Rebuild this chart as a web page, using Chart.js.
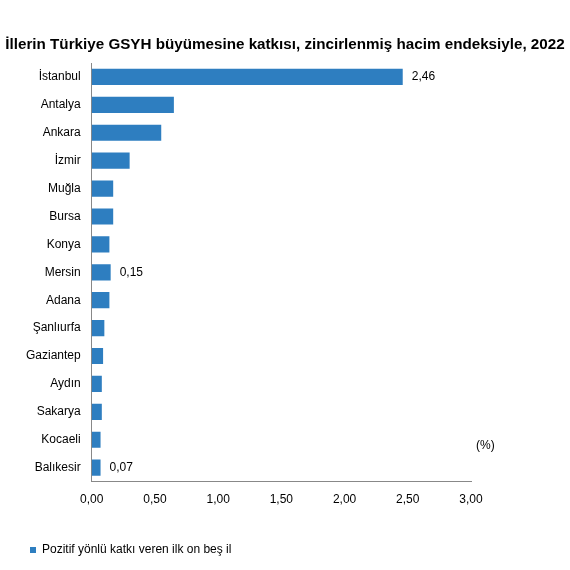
<!DOCTYPE html>
<html><head><meta charset="utf-8">
<script src="https://cdn.jsdelivr.net/npm/chart.js@4/dist/chart.umd.min.js"></script>
<style>body{margin:0;background:#fff}#w{width:570px;height:570px;position:relative}</style>
</head><body><div id="w"><canvas id="c"></canvas></div>
<script>
const categories=["İstanbul","Antalya","Ankara","İzmir","Muğla","Bursa","Konya","Mersin","Adana","Şanlıurfa","Gaziantep","Aydın","Sakarya","Kocaeli","Balıkesir"];
const values=[2.46,0.65,0.55,0.30,0.17,0.17,0.14,0.15,0.14,0.10,0.09,0.08,0.08,0.07,0.07];
const shownLabels=["2,46","","","","","","","0,15","","","","","","","0,07"];
const seriesName="Pozitif yönlü katkı veren ilk on beş il";
const title="İllerin Türkiye GSYH büyümesine katkısı, zincirlenmiş hacim endeksiyle, 2022";
const fmt=v=>v.toFixed(2).replace('.',',');
const F='Arial, "Liberation Sans"';
const labelPlugin={id:'lbl',afterDatasetsDraw(ch){const c=ch.ctx;const m=ch.getDatasetMeta(0);c.save();c.font='12px '+F;c.fillStyle='#000';c.textBaseline='middle';
m.data.forEach((b,i)=>{if(shownLabels[i])c.fillText(shownLabels[i],b.x+9,b.y);});
const xs=ch.scales.x;c.fillText('(%)',xs.right+5,ch.scales.y.getPixelForValue(14)-22);
let s=16;c.font='bold '+s+'px '+F;const w=c.measureText(title).width;s=s*560/w;c.font='bold '+s+'px '+F;
c.textAlign='center';c.fillText(title,285,45);c.restore();}};
new Chart(document.getElementById('c'),{type:'bar',
data:{labels:categories,datasets:[{label:seriesName,data:values,backgroundColor:'#2E7EC0',barPercentage:0.58,categoryPercentage:1}]},
options:{indexAxis:'y',responsive:true,maintainAspectRatio:false,animation:false,
layout:{padding:{left:20,right:99,top:63,bottom:4}},
plugins:{title:{display:false},
legend:{position:'bottom',align:'start',labels:{boxWidth:6,boxHeight:6,font:{family:F,size:12},color:'#000',padding:10}},
tooltip:{enabled:false}},
scales:{x:{min:0,max:3,afterFit(s){s.height+=24;},ticks:{stepSize:0.5,callback:v=>fmt(v),font:{family:F,size:12},color:'#000'},grid:{display:false,drawTicks:true,tickColor:'#888'},border:{color:'#888'}},
y:{ticks:{font:{family:F,size:12},color:'#000',padding:6},grid:{display:false,tickLength:5,tickColor:'#888'},border:{color:'#888'}}}},
plugins:[labelPlugin]});
</script></body></html>
